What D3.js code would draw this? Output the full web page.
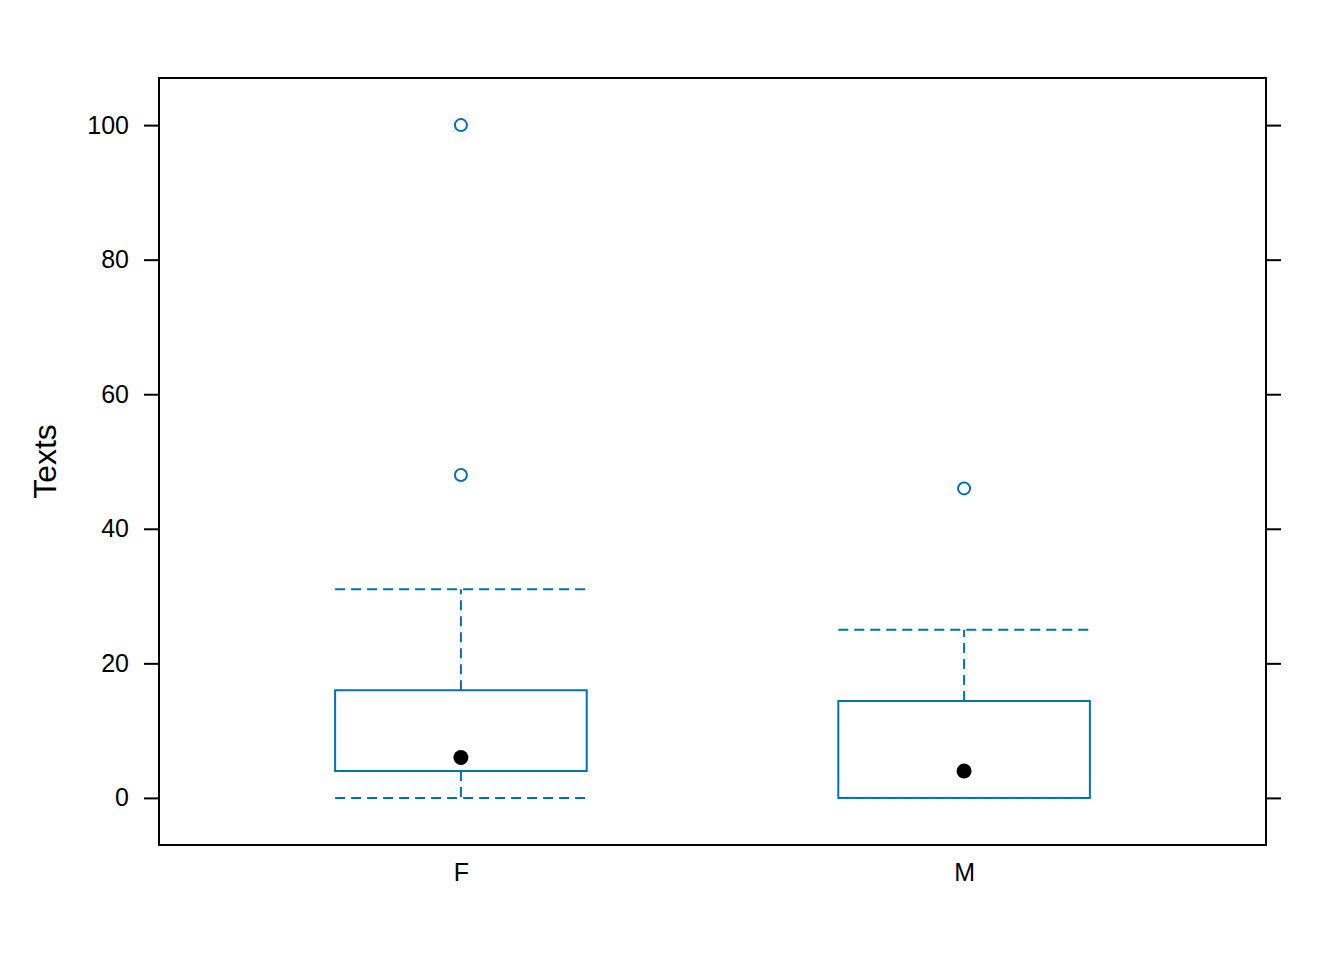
<!DOCTYPE html>
<html><head><meta charset="utf-8">
<script src="https://cdn.jsdelivr.net/npm/d3@7"></script>
<style>body{margin:0;background:#fff}svg{display:block}text{font-family:"Liberation Sans",Arial,sans-serif}</style>
</head><body><div id="chart"></div>
<script>
const categories = ["F", "M"];
const q1 = [4, 0];
const median = [6, 4];
const q3 = [16, 14.4];
const whiskerLow = [0, 0];
const whiskerHigh = [31, 25];
const outliers = [[48, 100], [46]];
const yTicks = [0, 20, 40, 60, 80, 100];
const yLabel = "Texts";

const W = 1344, H = 960;
const L = 159, R = 1266, T = 78, B = 845;
const col = "#0072b2";
const svg = d3.select("#chart").append("svg").attr("width", W).attr("height", H);

const x = d3.scaleLinear().domain([0.4, 2.6]).range([L, R]);
const y = d3.scaleLinear().domain([-7, 107]).range([B, T]);
const bw = 0.5;

// axes
const yl = svg.append("g").attr("transform", `translate(${L},0)`)
  .call(d3.axisLeft(y).tickValues(yTicks).tickSize(15).tickPadding(15));
const yr = svg.append("g").attr("transform", `translate(${R},0)`)
  .call(d3.axisRight(y).tickValues(yTicks).tickSize(15).tickFormat(""));
const xb = svg.append("g").attr("transform", `translate(0,${B})`)
  .call(d3.axisBottom(x).tickValues([1, 2]).tickFormat((d) => categories[d - 1]).tickSize(0).tickPadding(18));
[yl, yr, xb].forEach(g => {
  g.select(".domain").remove();
  g.selectAll("line").attr("stroke", "#000").attr("stroke-width", 2);
  g.selectAll("text").attr("font-size", 25).attr("fill", "#000").attr("font-family", "Liberation Sans, Arial, sans-serif");
});
xb.selectAll("text").attr("dy", "0.71em");

svg.append("rect").attr("x", L).attr("y", T).attr("width", R - L).attr("height", B - T)
  .attr("fill", "none").attr("stroke", "#000").attr("stroke-width", 2);

svg.append("text").attr("transform", `translate(56,${(T + B) / 2}) rotate(-90)`)
  .attr("text-anchor", "middle").attr("font-size", 32).attr("fill", "#000").text(yLabel);

const g = svg.append("g");
categories.forEach((c, i) => {
  const cx = x(i + 1), x0 = x(i + 1 - bw / 2), x1 = x(i + 1 + bw / 2);
  const dash = "10,6";
  // whiskers
  g.append("line").attr("x1", cx).attr("x2", cx).attr("y1", y(q3[i])).attr("y2", y(whiskerHigh[i]))
    .attr("stroke", col).attr("stroke-width", 2).attr("stroke-dasharray", dash);
  g.append("line").attr("x1", cx).attr("x2", cx).attr("y1", y(q1[i])).attr("y2", y(whiskerLow[i]))
    .attr("stroke", col).attr("stroke-width", 2).attr("stroke-dasharray", dash);
  g.append("line").attr("x1", x0).attr("x2", x1).attr("y1", y(whiskerHigh[i])).attr("y2", y(whiskerHigh[i]))
    .attr("stroke", col).attr("stroke-width", 2).attr("stroke-dasharray", dash);
  g.append("line").attr("x1", x0).attr("x2", x1).attr("y1", y(whiskerLow[i])).attr("y2", y(whiskerLow[i]))
    .attr("stroke", col).attr("stroke-width", 2).attr("stroke-dasharray", dash);
  // box
  g.append("rect").attr("x", x0).attr("y", y(q3[i])).attr("width", x1 - x0).attr("height", y(q1[i]) - y(q3[i]))
    .attr("fill", "#fff").attr("stroke", col).attr("stroke-width", 2);
  // median dot
  g.append("circle").attr("cx", cx).attr("cy", y(median[i])).attr("r", 7.5).attr("fill", "#000");
  // outliers
  outliers[i].forEach(v => {
    g.append("circle").attr("cx", cx).attr("cy", y(v)).attr("r", 6)
      .attr("fill", "none").attr("stroke", col).attr("stroke-width", 2);
  });
});
</script></body></html>
